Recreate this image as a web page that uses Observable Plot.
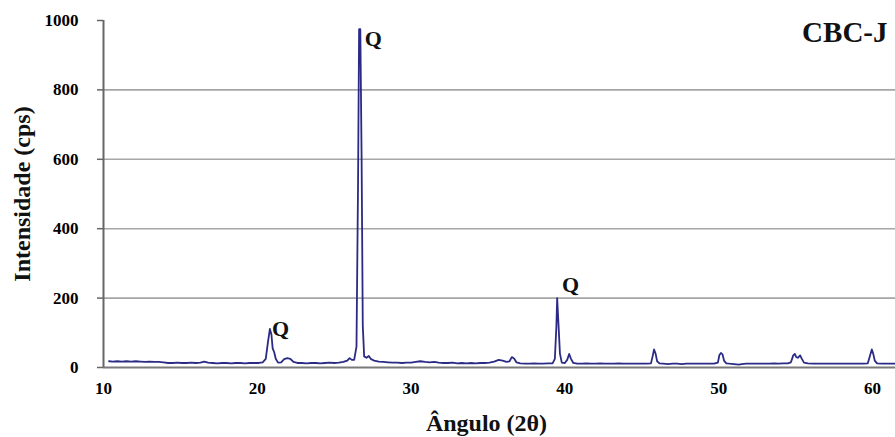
<!DOCTYPE html>
<html>
<head>
<meta charset="utf-8">
<script src="https://cdn.jsdelivr.net/npm/d3@7"></script>
<script src="https://cdn.jsdelivr.net/npm/@observablehq/plot@0.6"></script>
<style>
  html, body { margin: 0; padding: 0; background: #fff; }
</style>
</head>
<body>
<div id="chart"></div>
<script>
const angles = [
  10.36, 10.6, 10.9, 11.2, 11.5, 11.8, 12.1, 12.4, 12.7, 13.0, 13.3, 13.6, 13.9, 14.2, 14.5, 14.8,
  15.1, 15.4, 15.7, 16.0, 16.3, 16.55, 16.8, 17.1, 17.4, 17.7, 18.0, 18.3, 18.6, 18.9, 19.2, 19.5,
  19.8, 20.1, 20.35, 20.55, 20.7, 20.82, 20.92, 21.0, 21.1, 21.2, 21.35, 21.55, 21.75, 21.95, 22.15,
  22.35, 22.6, 22.9, 23.2, 23.5, 23.8, 24.1, 24.4, 24.7, 25.0, 25.3, 25.6, 25.85, 26.0, 26.15, 26.3,
  26.45, 26.55, 26.62, 26.7, 26.78, 26.86, 26.95, 27.1, 27.25, 27.4, 27.6, 27.9, 28.2, 28.5, 28.8,
  29.1, 29.4, 29.7, 30.0, 30.3, 30.6, 30.9, 31.2, 31.5, 31.8, 32.1, 32.4, 32.7, 33.0, 33.3, 33.6,
  33.9, 34.2, 34.5, 34.8, 35.1, 35.4, 35.7, 35.95, 36.2, 36.4, 36.55, 36.7, 36.85, 37.1, 37.4, 37.7,
  38.0, 38.3, 38.6, 38.9, 39.2, 39.35, 39.45, 39.5, 39.58, 39.68, 39.8, 40.0, 40.15, 40.28, 40.4,
  40.55, 40.8, 41.1, 41.4, 41.7, 42.0, 42.3, 42.6, 42.9, 43.2, 43.5, 43.8, 44.1, 44.4, 44.7, 45.0,
  45.3, 45.6, 45.72, 45.8, 45.9, 46.0, 46.15, 46.4, 46.7, 47.0, 47.3, 47.6, 47.9, 48.2, 48.5, 48.8,
  49.1, 49.4, 49.7, 49.95, 50.05, 50.15, 50.25, 50.35, 50.5, 50.7, 51.0, 51.3, 51.5, 51.8, 52.1,
  52.4, 52.7, 53.0, 53.3, 53.6, 53.9, 54.2, 54.5, 54.7, 54.85, 54.95, 55.05, 55.15, 55.3, 55.42,
  55.55, 55.8, 56.1, 56.4, 56.7, 57.0, 57.3, 57.6, 57.9, 58.2, 58.5, 58.8, 59.1, 59.4, 59.7, 59.85,
  59.96, 60.05, 60.15, 60.3, 60.6, 60.9, 61.2, 61.5
];
const intensity = [
  18, 17, 18, 17, 18, 17, 18, 17, 16, 17, 16, 16, 15, 13, 13, 14,
  13, 13, 14, 13, 14, 17, 14, 13, 12, 13, 13, 12, 13, 13, 12, 13,
  13, 13, 15, 25, 75, 111, 95, 55, 44, 25, 14, 15, 24, 27, 25,
  16, 13, 13, 12, 13, 13, 12, 13, 14, 13, 14, 16, 20, 27, 22, 22,
  60, 520, 975, 975, 620, 120, 32, 28, 33, 24, 20, 17, 16, 15, 14,
  14, 13, 14, 14, 16, 18, 16, 15, 16, 14, 13, 13, 14, 12, 13, 12,
  13, 12, 13, 13, 14, 17, 22, 20, 16, 18, 30, 26, 15, 12, 11, 11,
  12, 11, 11, 12, 12, 25, 120, 200, 130, 40, 14, 13, 22, 39, 25,
  13, 11, 11, 12, 11, 11, 12, 11, 11, 11, 12, 11, 11, 11, 11, 11,
  11, 12, 35, 52, 40, 18, 12, 11, 10, 11, 11, 10, 11, 11, 11, 11,
  11, 11, 11, 14, 36, 42, 38, 20, 12, 11, 10, 8, 10, 11, 11,
  11, 11, 11, 11, 12, 11, 12, 12, 15, 35, 39, 30, 28, 35, 24,
  14, 12, 11, 11, 11, 11, 11, 11, 11, 11, 11, 11, 11, 11, 12, 35,
  52, 40, 20, 12, 11, 11, 11, 11
];
const xTicks = [10, 20, 30, 40, 50, 60];
const yTicks = [0, 200, 400, 600, 800, 1000];
const gridValues = [200, 400, 600, 800];
const peakAngles = [20.86, 26.64, 39.46];
const peakIntensities = [111, 977, 200];
const peakLabels = ["Q", "Q", "Q"];
const chartTitle = "CBC-J";
const xLabel = "Ângulo (2θ)";
const yLabel = "Intensidade (cps)";

const pattern = angles.map((a, i) => ({angle: a, value: intensity[i]}));
const peaks = peakAngles.map((a, i) => ({angle: a, value: peakIntensities[i], label: peakLabels[i]}));

const font = "'Liberation Serif', 'Times New Roman', serif";
const lineColor = "#2b2b86";
const qOffsets = [[10, 0], [14, 10], [14, -13]];

const chart = Plot.plot({
  width: 895,
  height: 437,
  marginLeft: 103,
  marginRight: 0,
  marginTop: 20,
  marginBottom: 70,
  x: {domain: [10, 61.5]},
  y: {domain: [0, 1000]},
  style: {fontFamily: font, fontWeight: "bold", background: "#fff", color: "#000"},
  marks: [
    Plot.ruleY(gridValues, {stroke: "#a6a6a6", strokeWidth: 1.6}),
    Plot.ruleY([0], {stroke: "#7a7a7a", strokeWidth: 2}),
    Plot.ruleX([10], {y1: 0, y2: 1000, stroke: "#666", strokeWidth: 2}),
    Plot.axisY(yTicks, {tickSize: 6, tickPadding: 19, fontSize: 17, label: null, tickFormat: d => String(d), stroke: "#666", strokeWidth: 1.5, fill: "#000"}),
    Plot.axisX(xTicks, {tickSize: 0, tickPadding: 14, fontSize: 17, label: null, tickFormat: d => String(d), fill: "#000"}),
    Plot.line(pattern, {x: "angle", y: "value", stroke: lineColor, strokeWidth: 1.8, curve: "linear"}),
    ...peaks.map((p, i) => Plot.text([p], {
      x: "angle", y: "value", text: "label",
      dx: qOffsets[i][0], dy: qOffsets[i][1],
      fontSize: 22, fontWeight: "bold", textAnchor: "middle", lineAnchor: "middle", fill: "#111"
    })),
    Plot.text([yLabel], {text: d => d, frameAnchor: "left", textAnchor: "middle", lineAnchor: "middle", rotate: -90, dx: -81, fontSize: 24, fontWeight: "bold", fill: "#111"}),
    Plot.text([xLabel], {text: d => d, frameAnchor: "bottom", textAnchor: "middle", lineAnchor: "middle", dx: -13, dy: 56, fontSize: 24, fontWeight: "bold", fill: "#111"}),
    Plot.text([chartTitle], {text: d => d, frameAnchor: "top-right", textAnchor: "end", lineAnchor: "middle", dx: -8, dy: 12, fontSize: 29, fontWeight: "bold", fill: "#111"})
  ]
});
document.getElementById("chart").appendChild(chart);
</script>
</body>
</html>
